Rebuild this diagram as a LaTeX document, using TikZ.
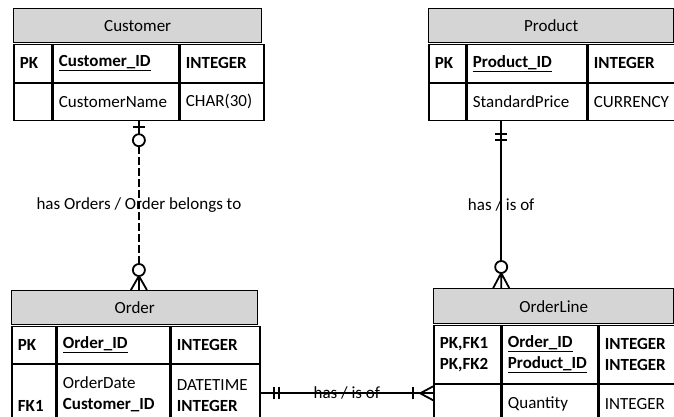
\documentclass[tikz,border=0pt]{standalone}
\usepackage{fontspec}
\setmainfont{Carlito}
\usepackage{tikz}
\usetikzlibrary{matrix}

\definecolor{headgray}{RGB}{213,213,213}
\newcommand{\erfont}{\fontsize{17}{21}\selectfont}
\newcommand{\keyattr}[1]{\textbf{\underline{#1}}}

\tikzset{
	entity/.style={matrix of nodes, nodes in empty cells, inner sep=0pt,
		column sep=-\pgflinewidth, row sep=-\pgflinewidth, ampersand replacement=\&,
		anchor=north west,
		nodes={draw, line width=1.4pt, inner xsep=6pt, inner ysep=0pt, align=left, anchor=center, font=\erfont}},
	enthead/.style={draw, line width=1.4pt, fill=headgray, minimum height=34pt, anchor=north west, font=\erfont},
	relline/.style={line width=1.8pt},
	dashrel/.style={line width=2.6pt, dash pattern=on 8pt off 3pt},
}

\begin{document}
\begin{tikzpicture}[x=1pt,y=-1pt]
	\useasboundingbox (0,0) rectangle (674,417);

	% Customer
	\node[enthead, minimum width=248pt] (customer head) at (13,8) {Customer};
	\matrix (customer) [entity,
		column 1/.style={nodes={text width=26pt}},
		column 2/.style={nodes={text width=114pt}},
		column 3/.style={nodes={text width=72pt}},
		row 1/.style={nodes={minimum height=38pt}},
		row 2/.style={nodes={minimum height=37pt}}
	] at (customer head.south west)
	{
		\textbf{PK} \& \keyattr{Customer\_ID} \& \textbf{INTEGER} \\
		            \& CustomerName          \& CHAR(30)         \\
	};

	% Product
	\node[enthead, minimum width=245pt] (product head) at (428,8) {Product};
	\matrix (product) [entity,
		column 1/.style={nodes={text width=25pt}},
		column 2/.style={nodes={text width=108pt}},
		column 3/.style={nodes={text width=76pt}},
		row 1/.style={nodes={minimum height=38pt}},
		row 2/.style={nodes={minimum height=37pt}}
	] at (product head.south west)
	{
		\textbf{PK} \& \keyattr{Product\_ID} \& \textbf{INTEGER} \\
		            \& StandardPrice        \& CURRENCY         \\
	};

	% Order
	\node[enthead, minimum width=246pt] (order head) at (11,290) {Order};
	\matrix (order) [entity,
		column 1/.style={nodes={text width=32pt}},
		column 2/.style={nodes={text width=101pt}},
		column 3/.style={nodes={text width=77pt}},
		row 1/.style={nodes={minimum height=37pt}},
		row 2/.style={nodes={minimum height=58pt}}
	] at (order head.south west)
	{
		\textbf{PK}              \& \keyattr{Order\_ID}                      \& \textbf{INTEGER}                    \\
		{\strut\\\textbf{FK1}}   \& {OrderDate\strut\\\textbf{Customer\_ID}} \& {DATETIME\strut\\\textbf{INTEGER}}  \\
	};

	% OrderLine
	\node[enthead, minimum width=240pt, minimum height=35pt] (orderline head) at (433,288) {OrderLine};
	\matrix (orderline) [entity,
		column 1/.style={nodes={text width=55pt}},
		column 2/.style={nodes={text width=84pt}},
		column 3/.style={nodes={text width=64pt}},
		row 1/.style={nodes={minimum height=58pt}},
		row 2/.style={nodes={minimum height=40pt}}
	] at (orderline head.south west)
	{
		{\textbf{PK,FK1}\\\textbf{PK,FK2}} \& {\keyattr{Order\_ID}\\\keyattr{Product\_ID}} \& {\textbf{INTEGER}\\\textbf{INTEGER}} \\
		                                   \& Quantity                                   \& INTEGER                              \\
	};

	% Customer -- Order
	\coordinate (co top) at (customer.south);
	\coordinate (co bot) at (co top |- order head.north);
	\draw[relline] (co top) -- ([yshift=-13pt]co top);
	\draw[relline] ([xshift=-6pt,yshift=-6pt]co top) -- ([xshift=6pt,yshift=-6pt]co top);
	\draw[relline] ([yshift=-19pt]co top) circle (6pt);
	\draw[dashrel] ([yshift=-25pt]co top) -- ([yshift=26pt]co bot)
		node[midway, font=\erfont] (co label) {has Orders / Order belongs to};
	\draw[relline] ([yshift=20pt]co bot) circle (6pt);
	\draw[relline] ([yshift=14pt]co bot) -- ([xshift=-8pt]co bot)
		([yshift=14pt]co bot) -- (co bot)
		([yshift=14pt]co bot) -- ([xshift=8pt]co bot);

	% Product -- OrderLine
	\coordinate (po top) at (orderline-1-2.west |- product.south);
	\coordinate (po bot) at (po top |- orderline head.north);
	\draw[relline] (po top) -- ([yshift=27pt]po bot)
		node[pos=0.6, font=\erfont] (po label) {has / is of};
	\draw[relline] ([xshift=-6pt,yshift=-13pt]po top) -- ([xshift=6pt,yshift=-13pt]po top);
	\draw[relline] ([xshift=-6pt,yshift=-19pt]po top) -- ([xshift=6pt,yshift=-19pt]po top);
	\draw[relline] ([yshift=21pt]po bot) circle (6pt);
	\draw[relline] ([yshift=15pt]po bot) -- ([xshift=-8pt]po bot)
		([yshift=15pt]po bot) -- (po bot)
		([yshift=15pt]po bot) -- ([xshift=8pt]po bot);

	% Order -- OrderLine
	\coordinate (oo left) at (order-2-3.east);
	\coordinate (oo right) at (oo left -| orderline-2-1.west);
	\draw[relline] (oo left) -- (oo right)
		node[midway, font=\erfont] (oo label) {has / is of};
	\draw[relline] ([xshift=13pt,yshift=-6pt]oo left) -- ([xshift=13pt,yshift=6pt]oo left);
	\draw[relline] ([xshift=18pt,yshift=-6pt]oo left) -- ([xshift=18pt,yshift=6pt]oo left);
	\draw[relline] ([xshift=-20pt,yshift=-6pt]oo right) -- ([xshift=-20pt,yshift=6pt]oo right);
	\draw[relline] ([xshift=-13pt]oo right) -- ([yshift=7pt]oo right)
		([xshift=-13pt]oo right) -- ([yshift=-7pt]oo right);
\end{tikzpicture}
\end{document}
